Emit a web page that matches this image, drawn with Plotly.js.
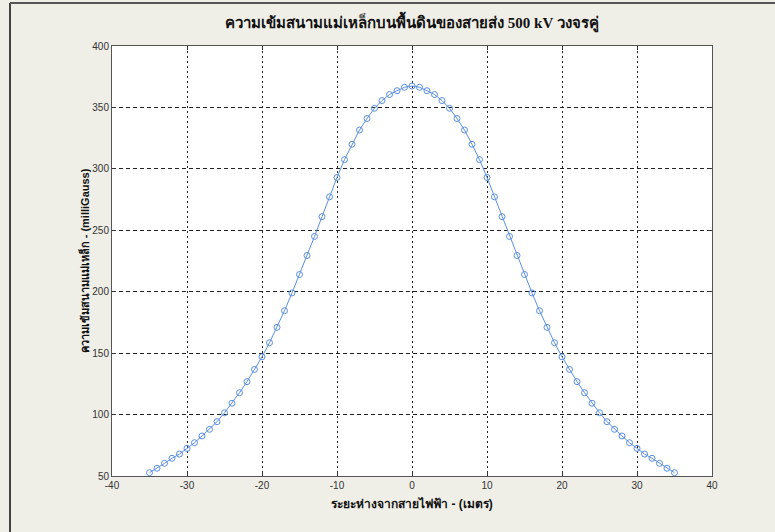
<!DOCTYPE html>
<html>
<head>
<meta charset="utf-8">
<script src="https://cdn.plot.ly/plotly-3.0.1.min.js"></script>
<style>
html,body{margin:0;padding:0;background:#efeee7;}
#chart{width:775px;height:532px;}
</style>
</head>
<body>
<div id="chart"></div>
<script>
// distance from the line (m)
const distance = [-35,-34,-33,-32,-31,-30,-29,-28,-27,-26,-25,-24,-23,-22,-21,-20,-19,-18,-17,-16,-15,-14,-13,-12,-11,-10,-9,-8,-7,-6,-5,-4,-3,-2,-1,0,1,2,3,4,5,6,7,8,9,10,11,12,13,14,15,16,17,18,19,20,21,22,23,24,25,26,27,28,29,30,31,32,33,34,35];
// magnetic field (milliGauss)
const fieldMG = [52.7,56.3,60.3,64.4,67.9,72.5,77.1,82.6,88.0,94.2,101.5,109.2,117.8,126.8,136.8,147.0,158.5,171.0,184.5,199.0,214.0,229.5,245.0,261.1,277.2,293.0,307.5,320.0,331.6,341.0,349.3,355.6,360.5,363.6,366.4,367.4,366.4,363.6,360.5,355.6,349.3,341.0,331.6,320.0,307.5,293.0,277.2,261.1,245.0,229.5,214.0,199.0,184.5,171.0,158.5,147.0,136.8,126.8,117.8,109.2,101.5,94.2,88.0,82.6,77.1,72.5,67.9,64.4,60.3,56.3,52.7];
const xTicks = [-40,-30,-20,-10,0,10,20,30,40];
const yTicks = [50,100,150,200,250,300,350,400];

const titleText = 'ความเข้มสนามแม่เหล็กบนพื้นดินของสายส่ง 500 kV วงจรคู่';
const xTitle = 'ระยะห่างจากสายไฟฟ้า - (เมตร)';
const yTitle = 'ความเข้มสนามแม่เหล็ก - (milliGauss)';

const trace = {
  x: distance, y: fieldMG,
  type: 'scatter', mode: 'lines+markers',
  line: {color: '#5b8fe0', width: 1},
  marker: {symbol: 'circle-open', size: 6, color: '#5a8fe0', line: {width: 1, color: '#5a8fe0'}},
  hoverinfo: 'x+y'
};

const axisCommon = {
  showline: true, linecolor: '#555', linewidth: 1, mirror: 'ticks',
  ticks: 'inside', ticklen: 4, tickcolor: '#333', tickwidth: 1,
  showgrid: true, gridcolor: '#222', gridwidth: 1,
  zeroline: false,
  tickfont: {family: 'Liberation Sans Narrow, Arial Narrow, Liberation Sans, sans-serif', size: 10, color: '#333'}
};

const layout = {
  width: 775, height: 532,
  paper_bgcolor: '#efeee7', plot_bgcolor: '#ffffff',
  margin: {l: 112, r: 63, t: 46, b: 56},
  showlegend: false,
  title: {text: titleText, x: 0.5315, xanchor: 'center', y: 0.958, yanchor: 'middle',
          font: {family: 'Liberation Serif, Times New Roman, serif', size: 15, color: '#111', weight: 'bold'}},
  xaxis: Object.assign({}, axisCommon, {
    range: [-40, 40], tickvals: xTicks, ticktext: xTicks.map(String),
    griddash: '2px,3px',
    title: {text: xTitle, standoff: 9, font: {family: 'Liberation Sans, sans-serif', size: 12, color: '#111', weight: 'bold'}}
  }),
  yaxis: Object.assign({}, axisCommon, {
    range: [50, 400], tickvals: yTicks, ticktext: yTicks.map(String),
    griddash: '4px,3px',
    title: {text: yTitle, standoff: 0, font: {family: 'Liberation Sans Narrow, Liberation Sans, sans-serif', size: 11, color: '#111', weight: 'bold'}}
  }),
  shapes: []
};
// left border at x≈10, top border at y≈3
layout.shapes.push({type: 'line', xref: 'paper', yref: 'paper',
  x0: (10 - 112) / 600, x1: (10 - 112) / 600, y0: (476 - 532) / 430, y1: (476 - 3) / 430,
  line: {color: '#444', width: 2}});
layout.shapes.push({type: 'line', xref: 'paper', yref: 'paper',
  x0: (10 - 112) / 600, x1: (775 - 112) / 600, y0: (476 - 3) / 430, y1: (476 - 3) / 430,
  line: {color: '#555', width: 2}});

Plotly.newPlot('chart', [trace], layout, {displayModeBar: false, staticPlot: true});
</script>
</body>
</html>
